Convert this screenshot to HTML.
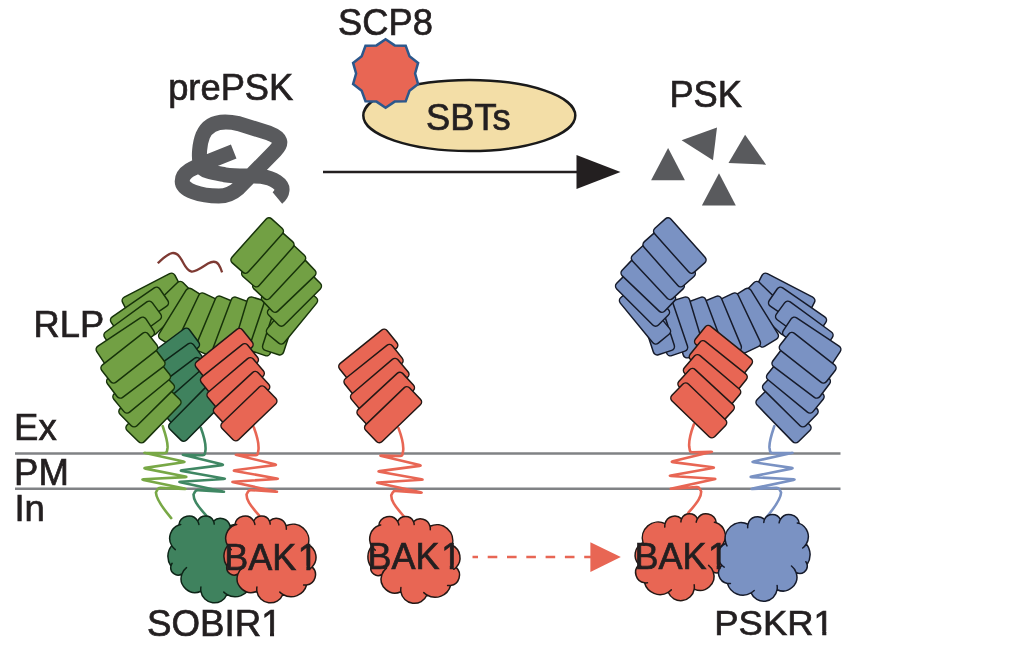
<!DOCTYPE html>
<html><head><meta charset="utf-8"><title>PSK signalling</title>
<style>
html,body{margin:0;padding:0;background:#fff;}
body{width:1028px;height:656px;overflow:hidden;font-family:"Liberation Sans",sans-serif;}
svg{display:block;filter:opacity(0.9999);}
text{font-family:"Liberation Sans",sans-serif;fill:#231f20;stroke:#231f20;stroke-width:0.7px;}
.lg{fill:#72a044;stroke:#17330a;stroke-width:1.5;}
.dg{fill:#3f825e;stroke:#0d2417;stroke-width:1.5;}
.rd{fill:#e86654;stroke:#231815;stroke-width:1.5;}
.bl{fill:#7a92c3;stroke:#161b2b;stroke-width:1.5;}
.tm{fill:none;stroke-width:2.6;stroke-linecap:round;stroke-linejoin:round;}
</style></head><body>
<svg width="1028" height="656" viewBox="0 0 1028 656">
<rect width="1028" height="656" fill="#ffffff"/>

<g id="membrane" stroke="#808285" stroke-width="2.5"><line x1="15" y1="453.6" x2="840.5" y2="453.6"/><line x1="15" y1="488.8" x2="840.5" y2="488.8"/></g>
<ellipse cx="469.3" cy="115.5" rx="106" ry="35.5" fill="#f3dea7" stroke="#1a1a1a" stroke-width="2.5"/>
<polygon points="385.6,39.3 394.7,45.4 405.7,45.8 409.5,56.2 418.1,62.9 415.1,73.5 418.1,84.1 409.5,90.8 405.7,101.2 394.7,101.6 385.6,107.7 376.5,101.6 365.5,101.2 361.7,90.8 353.1,84.1 356.1,73.5 353.1,62.9 361.7,56.2 365.5,45.8 376.5,45.4" fill="#e86654" stroke="#2c588c" stroke-width="2.5" stroke-linejoin="miter"/>
<line x1="323" y1="172" x2="580" y2="172" stroke="#231f20" stroke-width="2.6"/>
<polygon points="576.5,155 620.5,172 576.5,189" fill="#231f20"/>
<path d="M233.7,151.5 L208.1,161.7 C192.9,167.8 182.2,172.1 182.2,181.2 C182.2,190.3 200.5,196.0 218.8,196.0 C228.7,196.0 234.0,192.2 238.6,188.1 L275.2,150.7 C282.8,143.1 281.2,137.8 269.1,133.2 L238.6,123.6 C220.3,119.5 208.1,123.3 202.8,135.5 C199.7,143.1 198.2,156.8 200.5,166.0 C202.8,171.3 214.2,172.8 224.9,174.8 C237.1,176.9 252.3,175.4 261.4,176.3 C273.6,178.1 282.8,184.2 282.0,190.3 C281.7,193.4 279.7,196.1 277.4,198.0" fill="none" stroke="#595a5d" stroke-width="15" stroke-linejoin="round"/>
<g fill="#595a5d"><polygon points="651.1,180.2 684.9,180.2 668.1,147.9"/><polygon points="681.6,140.3 717,127.5 713,160.2"/><polygon points="728.5,162.9 766.1,164.7 745.1,134.8"/><polygon points="701.9,205.4 735.8,205.4 719,173.3"/></g>
<path d="M157.7,263.2 C162,259.5 167,254 172.1,253.1 C176,252.5 179,255 181.8,260.1 C184.5,265 186.5,270.5 191.4,271.5 C196,272.3 203,266.5 208,263.6 C212,261.3 216,260.8 218.6,264.5 C220.3,267 221.3,269.8 222.1,272.4" fill="none" stroke="#7e3a33" stroke-width="2.3"/>
<g id="left">
<path class="tm" stroke="#78a846" d="M162.7,426.2 C165.0,433.0 168.2,442.0 167.5,448.0 L167.0,451.0 Q166.6,453.2 164.4,453.1 L145.5,452.7 Q143.3,452.6 145.4,453.1 L183.5,461.4 Q185.6,461.9 183.4,462.2 L145.5,467.9 Q143.3,468.2 145.5,468.6 L185.3,476.6 Q187.5,477.0 185.3,477.1 L143.5,479.3 Q141.3,479.4 143.5,479.9 L184.4,488.6 Q186.6,489.1 184.4,489.0 L160.7,487.9 Q158.5,487.8 157.4,489.7 L155.9,492.5 C156.2,498.0 161.0,506.0 171.2,518.1"/>
<path class="tm" stroke="#3f8763" d="M200.8,427.8 C203.5,435.0 206.0,444.0 205.5,450.0 L205.0,453.1 Q204.6,455.3 202.4,455.2 L183.9,454.7 Q181.7,454.6 183.8,455.1 L221.9,464.3 Q224.0,464.8 221.8,465.1 L181.9,470.3 Q179.7,470.6 181.9,471.0 L223.8,478.5 Q226.0,478.9 223.8,479.0 L180.5,481.7 Q178.3,481.8 180.4,482.3 L222.9,491.5 Q225.0,492.0 222.8,491.8 L198.2,490.1 Q196.0,489.9 194.9,491.8 L193.5,494.5 C193.5,499.5 196.0,504.0 206.3,515.7"/>
<path class="tm" stroke="#e86654" d="M253.8,427.3 C256.5,434.5 259.0,443.5 258.5,449.5 L257.9,453.1 Q257.6,455.3 255.4,455.2 L236.9,454.7 Q234.7,454.6 236.8,455.1 L274.9,464.3 Q277.0,464.8 274.8,465.1 L234.9,470.3 Q232.7,470.6 234.9,471.0 L276.8,478.5 Q279.0,478.9 276.8,479.0 L233.5,481.7 Q231.3,481.8 233.4,482.3 L275.9,491.5 Q278.0,492.0 275.8,491.8 L251.2,490.1 Q249.0,489.9 247.9,491.8 L246.5,494.5 C246.5,499.5 249.0,504.0 259.3,515.7"/>
<rect class="lg" x="-29.50" y="-11.00" width="59.00" height="22.00" rx="4.0" transform="translate(152.01,295.14) rotate(-27.30)"/>
<rect class="lg" x="-29.50" y="-11.00" width="59.00" height="22.00" rx="4.0" transform="translate(166.84,308.20) rotate(-44.00)"/>
<rect class="lg" x="-29.50" y="-11.00" width="59.00" height="22.00" rx="4.0" transform="translate(182.00,317.69) rotate(-58.20)"/>
<rect class="lg" x="-29.50" y="-11.00" width="59.00" height="22.00" rx="4.0" transform="translate(197.78,323.01) rotate(-64.60)"/>
<rect class="lg" x="-29.50" y="-11.00" width="59.00" height="22.00" rx="4.0" transform="translate(215.87,326.32) rotate(-67.40)"/>
<rect class="lg" x="-29.50" y="-11.00" width="59.00" height="22.00" rx="4.0" transform="translate(232.54,327.46) rotate(-69.40)"/>
<rect class="lg" x="-29.50" y="-11.00" width="59.00" height="22.00" rx="4.0" transform="translate(250.58,327.42) rotate(-73.20)"/>
<rect class="lg" x="-29.50" y="-11.00" width="59.00" height="22.00" rx="4.0" transform="translate(268.14,325.44) rotate(-71.30)"/>
<rect class="lg" x="-29.50" y="-11.00" width="59.00" height="22.00" rx="4.0" transform="translate(281.07,324.45) rotate(-72.00)"/>
<rect class="lg" x="-29.50" y="-11.00" width="59.00" height="22.00" rx="4.0" transform="translate(292.00,315.87) rotate(-50.70)"/>
<rect class="lg" x="-29.50" y="-11.00" width="59.00" height="22.00" rx="4.0" transform="translate(294.47,299.18) rotate(-45.00)"/>
<rect class="lg" x="-29.50" y="-11.00" width="59.00" height="22.00" rx="4.0" transform="translate(288.68,285.55) rotate(-43.70)"/>
<rect class="lg" x="-29.50" y="-11.00" width="59.00" height="22.00" rx="4.0" transform="translate(279.14,272.04) rotate(-47.00)"/>
<rect class="lg" x="-29.50" y="-11.00" width="59.00" height="22.00" rx="4.0" transform="translate(267.82,259.05) rotate(-48.50)"/>
<rect class="lg" x="-29.50" y="-11.00" width="59.00" height="22.00" rx="4.0" transform="translate(257.19,245.52) rotate(-48.20)"/>
<rect class="lg" x="-29.50" y="-11.00" width="59.00" height="22.00" rx="4.0" transform="translate(139.48,311.48) rotate(-34.50)"/>
<rect class="lg" x="-29.50" y="-11.00" width="59.00" height="22.00" rx="4.0" transform="translate(132.69,325.87) rotate(-36.10)"/>
<rect class="lg" x="-29.50" y="-11.00" width="59.00" height="22.00" rx="4.0" transform="translate(125.24,341.13) rotate(-33.70)"/>
<rect class="dg" x="-29.75" y="-11.75" width="59.50" height="23.50" rx="4.0" transform="translate(170.20,353.80) rotate(-36.70)"/>
<rect class="dg" x="-29.75" y="-11.75" width="59.50" height="23.50" rx="4.0" transform="translate(174.18,368.60) rotate(-36.00)"/>
<rect class="dg" x="-29.75" y="-11.75" width="59.50" height="23.50" rx="4.0" transform="translate(181.04,383.29) rotate(-37.00)"/>
<rect class="dg" x="-29.75" y="-11.75" width="59.50" height="23.50" rx="4.0" transform="translate(188.11,396.88) rotate(-41.40)"/>
<rect class="dg" x="-29.75" y="-11.75" width="59.50" height="23.50" rx="4.0" transform="translate(196.35,413.47) rotate(-45.40)"/>
<rect class="lg" x="-29.50" y="-12.00" width="59.00" height="24.00" rx="4.0" transform="translate(153.48,414.99) rotate(-45.80)"/>
<rect class="lg" x="-29.50" y="-12.00" width="59.00" height="24.00" rx="4.0" transform="translate(146.67,399.25) rotate(-44.60)"/>
<rect class="lg" x="-29.50" y="-12.00" width="59.00" height="24.00" rx="4.0" transform="translate(141.69,386.70) rotate(-39.40)"/>
<rect class="lg" x="-29.50" y="-12.00" width="59.00" height="24.00" rx="4.0" transform="translate(135.81,372.36) rotate(-37.00)"/>
<rect class="lg" x="-29.50" y="-11.00" width="59.00" height="22.00" rx="4.0" transform="translate(129.33,357.79) rotate(-38.20)"/>
<rect class="rd" x="-29.75" y="-11.75" width="59.50" height="23.50" rx="4.0" transform="translate(224.18,354.60) rotate(-38.80)"/>
<rect class="rd" x="-29.75" y="-11.75" width="59.50" height="23.50" rx="4.0" transform="translate(229.43,369.87) rotate(-38.70)"/>
<rect class="rd" x="-29.75" y="-11.75" width="59.50" height="23.50" rx="4.0" transform="translate(235.63,384.23) rotate(-40.40)"/>
<rect class="rd" x="-29.75" y="-11.75" width="59.50" height="23.50" rx="4.0" transform="translate(241.59,398.73) rotate(-42.80)"/>
<rect class="rd" x="-29.75" y="-11.75" width="59.50" height="23.50" rx="4.0" transform="translate(248.93,413.39) rotate(-43.90)"/>
</g>
<g transform="translate(214.0,559.3)"><path class="dg" style="stroke:none" d="M-35.2,-34.3 A10.2,10.2 0 0 1 -16.3,-38.2 A8.7,8.7 0 0 1 -0.5,-38.2 A9.9,9.9 0 0 1 16.0,-33.5 A15.9,15.9 0 0 1 38.1,-14.5 A13.8,13.8 0 0 1 42.1,7.6 A10.5,10.5 0 0 1 36.6,25.7 A16.1,16.1 0 0 1 12.9,35.2 A13.6,13.6 0 0 1 -13.1,32.0 A14.0,14.0 0 0 1 -32.1,14.7 A7.4,7.4 0 0 1 -43.1,6.8 A17.2,17.2 0 0 1 -42.3,-13.7 A14.2,14.2 0 0 1 -35.2,-34.3Z"/><path class="dg" style="fill:none;stroke-linecap:round" d="M-35.2,-34.3 A10.2,10.2 0 0 1 -35.2,-34.3 A10.2,10.2 0 0 1 -16.3,-38.2 A10.2,10.2 0 0 1 -15.1,-34.9 M-16.3,-38.2 A8.7,8.7 0 0 1 -16.3,-38.2 A8.7,8.7 0 0 1 -0.5,-38.2 A8.7,8.7 0 0 1 0.2,-35.2 M-0.5,-38.2 A9.9,9.9 0 0 1 -0.5,-38.2 A9.9,9.9 0 0 1 16.0,-33.5 A9.9,9.9 0 0 1 16.3,-30.0 M16.0,-33.5 A15.9,15.9 0 0 1 16.0,-33.5 A15.9,15.9 0 0 1 38.1,-14.5 A15.9,15.9 0 0 1 37.0,-11.8 M38.1,-14.5 A13.8,13.8 0 0 1 38.1,-14.5 A13.8,13.8 0 0 1 42.1,7.6 A13.8,13.8 0 0 1 39.8,9.5 M42.1,7.6 A10.5,10.5 0 0 1 42.1,7.6 A10.5,10.5 0 0 1 36.6,25.7 A10.5,10.5 0 0 1 33.6,25.7 M36.6,25.7 A16.1,16.1 0 0 1 36.6,25.7 A16.1,16.1 0 0 1 12.9,35.2 A16.1,16.1 0 0 1 9.8,32.8 M12.9,35.2 A13.6,13.6 0 0 1 12.9,35.2 A13.6,13.6 0 0 1 -13.1,32.0 A13.6,13.6 0 0 1 -13.1,27.7 M-13.1,32.0 A14.0,14.0 0 0 1 -13.1,32.0 A14.0,14.0 0 0 1 -32.1,14.7 A14.0,14.0 0 0 1 -27.5,8.3 M-32.1,14.7 A7.4,7.4 0 0 1 -32.1,14.7 A7.4,7.4 0 0 1 -43.1,6.8 A7.4,7.4 0 0 1 -41.9,4.0 M-43.1,6.8 A17.2,17.2 0 0 1 -43.1,6.8 A17.2,17.2 0 0 1 -42.3,-13.7 A17.2,17.2 0 0 1 -42.3,-13.7 M-38.7,-9.7 A14.2,14.2 0 0 1 -42.3,-13.7 A14.2,14.2 0 0 1 -35.2,-34.3 A14.2,14.2 0 0 1 -33.3,-34.8"/></g>
<g transform="translate(270,559.3)"><path class="rd" style="stroke:none" d="M-35.2,-34.3 A10.2,10.2 0 0 1 -16.3,-38.2 A8.7,8.7 0 0 1 -0.5,-38.2 A9.9,9.9 0 0 1 16.0,-33.5 A15.9,15.9 0 0 1 38.1,-14.5 A13.8,13.8 0 0 1 42.1,7.6 A10.5,10.5 0 0 1 36.6,25.7 A16.1,16.1 0 0 1 12.9,35.2 A13.6,13.6 0 0 1 -13.1,32.0 A14.0,14.0 0 0 1 -32.1,14.7 A7.4,7.4 0 0 1 -43.1,6.8 A17.2,17.2 0 0 1 -42.3,-13.7 A14.2,14.2 0 0 1 -35.2,-34.3Z"/><path class="rd" style="fill:none;stroke-linecap:round" d="M-35.2,-34.3 A10.2,10.2 0 0 1 -35.2,-34.3 A10.2,10.2 0 0 1 -16.3,-38.2 A10.2,10.2 0 0 1 -15.1,-34.9 M-16.3,-38.2 A8.7,8.7 0 0 1 -16.3,-38.2 A8.7,8.7 0 0 1 -0.5,-38.2 A8.7,8.7 0 0 1 0.2,-35.2 M-0.5,-38.2 A9.9,9.9 0 0 1 -0.5,-38.2 A9.9,9.9 0 0 1 16.0,-33.5 A9.9,9.9 0 0 1 16.3,-30.0 M16.0,-33.5 A15.9,15.9 0 0 1 16.0,-33.5 A15.9,15.9 0 0 1 38.1,-14.5 A15.9,15.9 0 0 1 37.0,-11.8 M38.1,-14.5 A13.8,13.8 0 0 1 38.1,-14.5 A13.8,13.8 0 0 1 42.1,7.6 A13.8,13.8 0 0 1 39.8,9.5 M42.1,7.6 A10.5,10.5 0 0 1 42.1,7.6 A10.5,10.5 0 0 1 36.6,25.7 A10.5,10.5 0 0 1 33.6,25.7 M36.6,25.7 A16.1,16.1 0 0 1 36.6,25.7 A16.1,16.1 0 0 1 12.9,35.2 A16.1,16.1 0 0 1 9.8,32.8 M12.9,35.2 A13.6,13.6 0 0 1 12.9,35.2 A13.6,13.6 0 0 1 -13.1,32.0 A13.6,13.6 0 0 1 -13.1,27.7 M-13.1,32.0 A14.0,14.0 0 0 1 -13.1,32.0 A14.0,14.0 0 0 1 -32.1,14.7 A14.0,14.0 0 0 1 -27.5,8.3 M-32.1,14.7 A7.4,7.4 0 0 1 -32.1,14.7 A7.4,7.4 0 0 1 -43.1,6.8 A7.4,7.4 0 0 1 -41.9,4.0 M-43.1,6.8 A17.2,17.2 0 0 1 -43.1,6.8 A17.2,17.2 0 0 1 -42.3,-13.7 A17.2,17.2 0 0 1 -42.3,-13.7 M-38.7,-9.7 A14.2,14.2 0 0 1 -42.3,-13.7 A14.2,14.2 0 0 1 -35.2,-34.3 A14.2,14.2 0 0 1 -33.3,-34.8"/></g>
<g id="mid" transform="translate(144.7,0.8)">
<path class="tm" stroke="#e86654" d="M253.8,427.3 C256.5,434.5 259.0,443.5 258.5,449.5 L257.9,453.1 Q257.6,455.3 255.4,455.2 L236.9,454.7 Q234.7,454.6 236.8,455.1 L274.9,464.3 Q277.0,464.8 274.8,465.1 L234.9,470.3 Q232.7,470.6 234.9,471.0 L276.8,478.5 Q279.0,478.9 276.8,479.0 L233.5,481.7 Q231.3,481.8 233.4,482.3 L275.9,491.5 Q278.0,492.0 275.8,491.8 L251.2,490.1 Q249.0,489.9 247.9,491.8 L246.5,494.5 C246.5,499.5 249.0,504.0 259.3,515.7"/>
<rect class="rd" x="-30.50" y="-11.75" width="61.00" height="23.50" rx="4.0" transform="translate(223.59,355.07) rotate(-38.80)"/>
<rect class="rd" x="-30.50" y="-11.75" width="61.00" height="23.50" rx="4.0" transform="translate(228.84,370.34) rotate(-38.70)"/>
<rect class="rd" x="-30.50" y="-11.75" width="61.00" height="23.50" rx="4.0" transform="translate(235.06,384.71) rotate(-40.40)"/>
<rect class="rd" x="-30.50" y="-11.75" width="61.00" height="23.50" rx="4.0" transform="translate(241.04,399.24) rotate(-42.80)"/>
<rect class="rd" x="-30.50" y="-11.75" width="61.00" height="23.50" rx="4.0" transform="translate(248.39,413.91) rotate(-43.90)"/>
</g>
<g transform="translate(414,559.8)"><path class="rd" style="stroke:none" d="M-35.2,-34.3 A10.2,10.2 0 0 1 -16.3,-38.2 A8.7,8.7 0 0 1 -0.5,-38.2 A9.9,9.9 0 0 1 16.0,-33.5 A15.9,15.9 0 0 1 38.1,-14.5 A13.8,13.8 0 0 1 42.1,7.6 A10.5,10.5 0 0 1 36.6,25.7 A16.1,16.1 0 0 1 12.9,35.2 A13.6,13.6 0 0 1 -13.1,32.0 A14.0,14.0 0 0 1 -32.1,14.7 A7.4,7.4 0 0 1 -43.1,6.8 A17.2,17.2 0 0 1 -42.3,-13.7 A14.2,14.2 0 0 1 -35.2,-34.3Z"/><path class="rd" style="fill:none;stroke-linecap:round" d="M-35.2,-34.3 A10.2,10.2 0 0 1 -35.2,-34.3 A10.2,10.2 0 0 1 -16.3,-38.2 A10.2,10.2 0 0 1 -15.1,-34.9 M-16.3,-38.2 A8.7,8.7 0 0 1 -16.3,-38.2 A8.7,8.7 0 0 1 -0.5,-38.2 A8.7,8.7 0 0 1 0.2,-35.2 M-0.5,-38.2 A9.9,9.9 0 0 1 -0.5,-38.2 A9.9,9.9 0 0 1 16.0,-33.5 A9.9,9.9 0 0 1 16.3,-30.0 M16.0,-33.5 A15.9,15.9 0 0 1 16.0,-33.5 A15.9,15.9 0 0 1 38.1,-14.5 A15.9,15.9 0 0 1 37.0,-11.8 M38.1,-14.5 A13.8,13.8 0 0 1 38.1,-14.5 A13.8,13.8 0 0 1 42.1,7.6 A13.8,13.8 0 0 1 39.8,9.5 M42.1,7.6 A10.5,10.5 0 0 1 42.1,7.6 A10.5,10.5 0 0 1 36.6,25.7 A10.5,10.5 0 0 1 33.6,25.7 M36.6,25.7 A16.1,16.1 0 0 1 36.6,25.7 A16.1,16.1 0 0 1 12.9,35.2 A16.1,16.1 0 0 1 9.8,32.8 M12.9,35.2 A13.6,13.6 0 0 1 12.9,35.2 A13.6,13.6 0 0 1 -13.1,32.0 A13.6,13.6 0 0 1 -13.1,27.7 M-13.1,32.0 A14.0,14.0 0 0 1 -13.1,32.0 A14.0,14.0 0 0 1 -32.1,14.7 A14.0,14.0 0 0 1 -27.5,8.3 M-32.1,14.7 A7.4,7.4 0 0 1 -32.1,14.7 A7.4,7.4 0 0 1 -43.1,6.8 A7.4,7.4 0 0 1 -41.9,4.0 M-43.1,6.8 A17.2,17.2 0 0 1 -43.1,6.8 A17.2,17.2 0 0 1 -42.3,-13.7 A17.2,17.2 0 0 1 -42.3,-13.7 M-38.7,-9.7 A14.2,14.2 0 0 1 -42.3,-13.7 A14.2,14.2 0 0 1 -35.2,-34.3 A14.2,14.2 0 0 1 -33.3,-34.8"/></g>
<line x1="472.5" y1="557.1" x2="592" y2="557.1" stroke="#e86654" stroke-width="2.5" stroke-dasharray="9.6 9.7" stroke-dashoffset="4.1"/>
<polygon points="590.4,542.2 620.8,557.1 590.4,572.1" fill="#e86654"/>
<g id="right-blue" transform="translate(937,0) scale(-1,1)">
<path class="tm" stroke="#7a92c3" d="M162.7,426.2 C165.0,433.0 168.2,442.0 167.5,448.0 L167.0,451.0 Q166.6,453.2 164.4,453.1 L145.5,452.7 Q143.3,452.6 145.4,453.1 L183.5,461.4 Q185.6,461.9 183.4,462.2 L145.5,467.9 Q143.3,468.2 145.5,468.6 L185.3,476.6 Q187.5,477.0 185.3,477.1 L143.5,479.3 Q141.3,479.4 143.5,479.9 L184.4,488.6 Q186.6,489.1 184.4,489.0 L160.7,487.9 Q158.5,487.8 157.4,489.7 L155.9,492.5 C156.2,498.0 161.0,506.0 171.2,518.1"/>
<rect class="bl" x="-29.50" y="-11.00" width="59.00" height="22.00" rx="4.0" transform="translate(152.01,295.14) rotate(-27.30)"/>
<rect class="bl" x="-29.50" y="-11.00" width="59.00" height="22.00" rx="4.0" transform="translate(166.84,308.20) rotate(-44.00)"/>
<rect class="bl" x="-29.50" y="-11.00" width="59.00" height="22.00" rx="4.0" transform="translate(182.00,317.69) rotate(-58.20)"/>
<rect class="bl" x="-29.50" y="-11.00" width="59.00" height="22.00" rx="4.0" transform="translate(197.78,323.01) rotate(-64.60)"/>
<rect class="bl" x="-29.50" y="-11.00" width="59.00" height="22.00" rx="4.0" transform="translate(215.87,326.32) rotate(-67.40)"/>
<rect class="bl" x="-29.50" y="-11.00" width="59.00" height="22.00" rx="4.0" transform="translate(232.54,327.46) rotate(-69.40)"/>
<rect class="bl" x="-29.50" y="-11.00" width="59.00" height="22.00" rx="4.0" transform="translate(250.58,327.42) rotate(-73.20)"/>
<rect class="bl" x="-29.50" y="-11.00" width="59.00" height="22.00" rx="4.0" transform="translate(268.14,325.44) rotate(-71.30)"/>
<rect class="bl" x="-29.50" y="-11.00" width="59.00" height="22.00" rx="4.0" transform="translate(281.07,324.45) rotate(-72.00)"/>
<rect class="bl" x="-29.50" y="-11.00" width="59.00" height="22.00" rx="4.0" transform="translate(292.00,315.87) rotate(-50.70)"/>
<rect class="bl" x="-29.50" y="-11.00" width="59.00" height="22.00" rx="4.0" transform="translate(294.47,299.18) rotate(-45.00)"/>
<rect class="bl" x="-29.50" y="-11.00" width="59.00" height="22.00" rx="4.0" transform="translate(288.68,285.55) rotate(-43.70)"/>
<rect class="bl" x="-29.50" y="-11.00" width="59.00" height="22.00" rx="4.0" transform="translate(279.14,272.04) rotate(-47.00)"/>
<rect class="bl" x="-29.50" y="-11.00" width="59.00" height="22.00" rx="4.0" transform="translate(267.82,259.05) rotate(-48.50)"/>
<rect class="bl" x="-29.50" y="-11.00" width="59.00" height="22.00" rx="4.0" transform="translate(257.19,245.52) rotate(-48.20)"/>
<rect class="bl" x="-29.50" y="-11.00" width="59.00" height="22.00" rx="4.0" transform="translate(139.48,311.48) rotate(-34.50)"/>
<rect class="bl" x="-29.50" y="-11.00" width="59.00" height="22.00" rx="4.0" transform="translate(132.69,325.87) rotate(-36.10)"/>
<rect class="bl" x="-29.50" y="-11.00" width="59.00" height="22.00" rx="4.0" transform="translate(125.24,341.13) rotate(-33.70)"/>
<rect class="bl" x="-29.50" y="-12.00" width="59.00" height="24.00" rx="4.0" transform="translate(153.48,414.99) rotate(-45.80)"/>
<rect class="bl" x="-29.50" y="-12.00" width="59.00" height="24.00" rx="4.0" transform="translate(146.67,399.25) rotate(-44.60)"/>
<rect class="bl" x="-29.50" y="-12.00" width="59.00" height="24.00" rx="4.0" transform="translate(141.69,386.70) rotate(-39.40)"/>
<rect class="bl" x="-29.50" y="-12.00" width="59.00" height="24.00" rx="4.0" transform="translate(135.81,372.36) rotate(-37.00)"/>
<rect class="bl" x="-29.50" y="-11.00" width="59.00" height="22.00" rx="4.0" transform="translate(129.33,357.79) rotate(-38.20)"/>
</g>
<g id="right-red" transform="translate(947.7,-3) scale(-1,1)">
<path class="tm" stroke="#e86654" d="M253.8,427.3 C256.5,434.5 259.0,443.5 258.5,449.5 L257.9,453.1 Q257.6,455.3 255.4,455.2 L236.9,454.7 Q234.7,454.6 236.8,455.1 L274.9,464.3 Q277.0,464.8 274.8,465.1 L234.9,470.3 Q232.7,470.6 234.9,471.0 L276.8,478.5 Q279.0,478.9 276.8,479.0 L233.5,481.7 Q231.3,481.8 233.4,482.3 L275.9,491.5 Q278.0,492.0 275.8,491.8 L251.2,490.1 Q249.0,489.9 247.9,491.8 L246.5,494.5 C246.5,499.5 249.0,504.0 259.3,515.7"/>
<rect class="rd" x="-29.75" y="-11.75" width="59.50" height="23.50" rx="4.0" transform="translate(224.18,354.60) rotate(-38.80)"/>
<rect class="rd" x="-29.75" y="-11.75" width="59.50" height="23.50" rx="4.0" transform="translate(229.43,369.87) rotate(-38.70)"/>
<rect class="rd" x="-29.75" y="-11.75" width="59.50" height="23.50" rx="4.0" transform="translate(235.63,384.23) rotate(-40.40)"/>
<rect class="rd" x="-29.75" y="-11.75" width="59.50" height="23.50" rx="4.0" transform="translate(241.59,398.73) rotate(-42.80)"/>
<rect class="rd" x="-29.75" y="-11.75" width="59.50" height="23.50" rx="4.0" transform="translate(248.93,413.39) rotate(-43.90)"/>
</g>
<g transform="translate(681.1,557.1) scale(-1,1)"><path class="rd" style="stroke:none" d="M-35.2,-34.3 A10.2,10.2 0 0 1 -16.3,-38.2 A8.7,8.7 0 0 1 -0.5,-38.2 A9.9,9.9 0 0 1 16.0,-33.5 A15.9,15.9 0 0 1 38.1,-14.5 A13.8,13.8 0 0 1 42.1,7.6 A10.5,10.5 0 0 1 36.6,25.7 A16.1,16.1 0 0 1 12.9,35.2 A13.6,13.6 0 0 1 -13.1,32.0 A14.0,14.0 0 0 1 -32.1,14.7 A7.4,7.4 0 0 1 -43.1,6.8 A17.2,17.2 0 0 1 -42.3,-13.7 A14.2,14.2 0 0 1 -35.2,-34.3Z"/><path class="rd" style="fill:none;stroke-linecap:round" d="M-35.2,-34.3 A10.2,10.2 0 0 1 -35.2,-34.3 A10.2,10.2 0 0 1 -16.3,-38.2 A10.2,10.2 0 0 1 -15.1,-34.9 M-16.3,-38.2 A8.7,8.7 0 0 1 -16.3,-38.2 A8.7,8.7 0 0 1 -0.5,-38.2 A8.7,8.7 0 0 1 0.2,-35.2 M-0.5,-38.2 A9.9,9.9 0 0 1 -0.5,-38.2 A9.9,9.9 0 0 1 16.0,-33.5 A9.9,9.9 0 0 1 16.3,-30.0 M16.0,-33.5 A15.9,15.9 0 0 1 16.0,-33.5 A15.9,15.9 0 0 1 38.1,-14.5 A15.9,15.9 0 0 1 37.0,-11.8 M38.1,-14.5 A13.8,13.8 0 0 1 38.1,-14.5 A13.8,13.8 0 0 1 42.1,7.6 A13.8,13.8 0 0 1 39.8,9.5 M42.1,7.6 A10.5,10.5 0 0 1 42.1,7.6 A10.5,10.5 0 0 1 36.6,25.7 A10.5,10.5 0 0 1 33.6,25.7 M36.6,25.7 A16.1,16.1 0 0 1 36.6,25.7 A16.1,16.1 0 0 1 12.9,35.2 A16.1,16.1 0 0 1 9.8,32.8 M12.9,35.2 A13.6,13.6 0 0 1 12.9,35.2 A13.6,13.6 0 0 1 -13.1,32.0 A13.6,13.6 0 0 1 -13.1,27.7 M-13.1,32.0 A14.0,14.0 0 0 1 -13.1,32.0 A14.0,14.0 0 0 1 -32.1,14.7 A14.0,14.0 0 0 1 -27.5,8.3 M-32.1,14.7 A7.4,7.4 0 0 1 -32.1,14.7 A7.4,7.4 0 0 1 -43.1,6.8 A7.4,7.4 0 0 1 -41.9,4.0 M-43.1,6.8 A17.2,17.2 0 0 1 -43.1,6.8 A17.2,17.2 0 0 1 -42.3,-13.7 A17.2,17.2 0 0 1 -42.3,-13.7 M-38.7,-9.7 A14.2,14.2 0 0 1 -42.3,-13.7 A14.2,14.2 0 0 1 -35.2,-34.3 A14.2,14.2 0 0 1 -33.3,-34.8"/></g>
<g transform="translate(764,557.7) scale(-1,1)"><path class="bl" style="stroke:none" d="M-35.2,-34.3 A10.2,10.2 0 0 1 -16.3,-38.2 A8.7,8.7 0 0 1 -0.5,-38.2 A9.9,9.9 0 0 1 16.0,-33.5 A15.9,15.9 0 0 1 38.1,-14.5 A13.8,13.8 0 0 1 42.1,7.6 A10.5,10.5 0 0 1 36.6,25.7 A16.1,16.1 0 0 1 12.9,35.2 A13.6,13.6 0 0 1 -13.1,32.0 A14.0,14.0 0 0 1 -32.1,14.7 A7.4,7.4 0 0 1 -43.1,6.8 A17.2,17.2 0 0 1 -42.3,-13.7 A14.2,14.2 0 0 1 -35.2,-34.3Z"/><path class="bl" style="fill:none;stroke-linecap:round" d="M-35.2,-34.3 A10.2,10.2 0 0 1 -35.2,-34.3 A10.2,10.2 0 0 1 -16.3,-38.2 A10.2,10.2 0 0 1 -15.1,-34.9 M-16.3,-38.2 A8.7,8.7 0 0 1 -16.3,-38.2 A8.7,8.7 0 0 1 -0.5,-38.2 A8.7,8.7 0 0 1 0.2,-35.2 M-0.5,-38.2 A9.9,9.9 0 0 1 -0.5,-38.2 A9.9,9.9 0 0 1 16.0,-33.5 A9.9,9.9 0 0 1 16.3,-30.0 M16.0,-33.5 A15.9,15.9 0 0 1 16.0,-33.5 A15.9,15.9 0 0 1 38.1,-14.5 A15.9,15.9 0 0 1 37.0,-11.8 M38.1,-14.5 A13.8,13.8 0 0 1 38.1,-14.5 A13.8,13.8 0 0 1 42.1,7.6 A13.8,13.8 0 0 1 39.8,9.5 M42.1,7.6 A10.5,10.5 0 0 1 42.1,7.6 A10.5,10.5 0 0 1 36.6,25.7 A10.5,10.5 0 0 1 33.6,25.7 M36.6,25.7 A16.1,16.1 0 0 1 36.6,25.7 A16.1,16.1 0 0 1 12.9,35.2 A16.1,16.1 0 0 1 9.8,32.8 M12.9,35.2 A13.6,13.6 0 0 1 12.9,35.2 A13.6,13.6 0 0 1 -13.1,32.0 A13.6,13.6 0 0 1 -13.1,27.7 M-13.1,32.0 A14.0,14.0 0 0 1 -13.1,32.0 A14.0,14.0 0 0 1 -32.1,14.7 A14.0,14.0 0 0 1 -27.5,8.3 M-32.1,14.7 A7.4,7.4 0 0 1 -32.1,14.7 A7.4,7.4 0 0 1 -43.1,6.8 A7.4,7.4 0 0 1 -41.9,4.0 M-43.1,6.8 A17.2,17.2 0 0 1 -43.1,6.8 A17.2,17.2 0 0 1 -42.3,-13.7 A17.2,17.2 0 0 1 -42.3,-13.7 M-38.7,-9.7 A14.2,14.2 0 0 1 -42.3,-13.7 A14.2,14.2 0 0 1 -35.2,-34.3 A14.2,14.2 0 0 1 -33.3,-34.8"/></g>
<g id="labels">
<text x="338.0" y="35.1" style="font-size:36.3px">SCP8</text>
<text x="168.2" y="99.8" style="font-size:36.3px">prePSK</text>
<text x="669.4" y="107.2" style="font-size:36.3px">PSK</text>
<text x="426.0" y="129.9" style="font-size:36.3px">SBTs</text>
<text x="33.6" y="337.1" style="font-size:36.3px">RLP</text>
<text x="14.1" y="439.9" style="font-size:36.5px">Ex</text>
<text x="14.1" y="484.5" style="font-size:36.5px">PM</text>
<text x="14.4" y="520.7" style="font-size:36.5px">In</text>
<text transform="translate(224.2,569.7) scale(1.0,1)" clip-path="url(#c0)" style="font-size:36.0px">BAK<tspan dx="1.5">1</tspan></text>
<text transform="translate(367.6,568.6) scale(1.0,1)" clip-path="url(#c1)" style="font-size:36.0px">BAK<tspan dx="1.5">1</tspan></text>
<text transform="translate(634.5,568.5) scale(1.0,1)" clip-path="url(#c2)" style="font-size:36.0px">BAK<tspan dx="1.5">1</tspan></text>
<text transform="translate(146.9,635.8) scale(1.02,1)" clip-path="url(#c3)" style="font-size:36.0px">SOBIR1</text>
<text transform="translate(714.3,635.2) scale(1.012,1)" clip-path="url(#c4)" style="font-size:36.0px">PSKR1</text>
</g>
<defs><clipPath id="c0"><path clip-rule="evenodd" d="M-5,-40 H97.2 V14 H-5 Z M74.26,-3.99 H82.19 V2.00 H74.26 Z M86.17,-3.99 H93.77 V2.00 H86.17 Z"/></clipPath><clipPath id="c1"><path clip-rule="evenodd" d="M-5,-40 H97.2 V14 H-5 Z M74.26,-3.99 H82.19 V2.00 H74.26 Z M86.17,-3.99 H93.77 V2.00 H86.17 Z"/></clipPath><clipPath id="c2"><path clip-rule="evenodd" d="M-5,-40 H97.2 V14 H-5 Z M74.26,-3.99 H82.19 V2.00 H74.26 Z M86.17,-3.99 H93.77 V2.00 H86.17 Z"/></clipPath><clipPath id="c3"><path clip-rule="evenodd" d="M-5,-40 H137.2 V14 H-5 Z M112.73,-3.99 H120.67 V2.00 H112.73 Z M124.65,-3.99 H132.25 V2.00 H124.65 Z"/></clipPath><clipPath id="c4"><path clip-rule="evenodd" d="M-5,-40 H123.2 V14 H-5 Z M98.75,-3.99 H106.68 V2.00 H98.75 Z M110.66,-3.99 H118.26 V2.00 H110.66 Z"/></clipPath></defs>
</svg></body></html>
